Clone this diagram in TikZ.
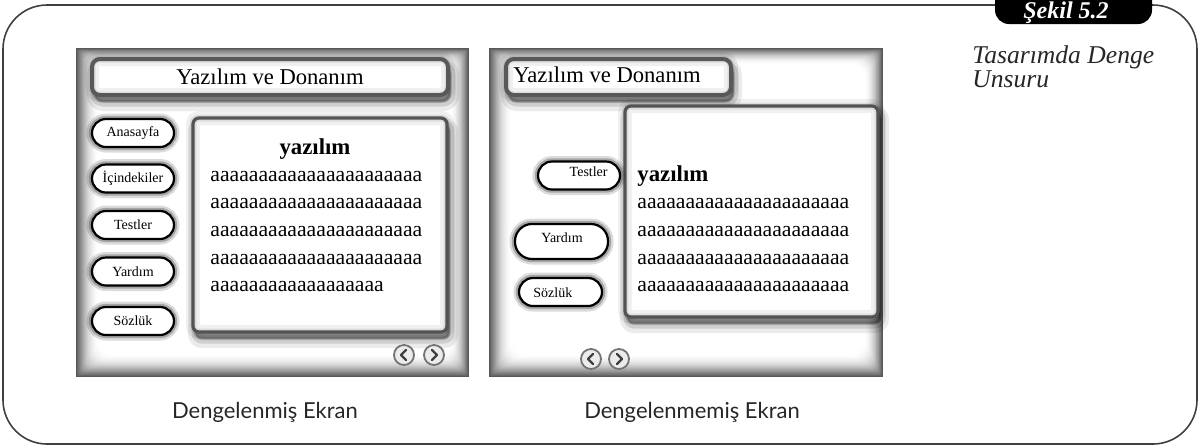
\documentclass[tikz,border=0pt]{standalone}
\usepackage{fontspec}
\newfontfamily\screenfont{Liberation Serif}
\newfontfamily\labelfont{Lato}
\usetikzlibrary{positioning, calc}

% vignette behind a screen shot: nw x, nw y, se x, se y
\newcommand\screenbg[4]{%
  \foreach \d [evaluate=\d as \c using {66*(1-\d/20)^1.8}] in {0,...,20}
    \fill[black!\c, rounded corners=\d*0.4pt] (#1+1.1*\d,#2+0.8*\d) rectangle (#3-0.9*\d,#4-1.1*\d);}
\newcommand\arow{aaaaaaaaaaaaaaaaaaaaaa}

\begin{document}
\begin{tikzpicture}[x=0.5pt, y=-0.5pt,
    frameline/.style={draw=black!75, line width=0.8pt, rounded corners=22pt},
    badge/.style={fill=black, rounded corners=7pt},
    badgetext/.style={text=white, font=\screenfont\fontsize{12}{14}\selectfont\bfseries\itshape, inner sep=0pt},
    sidetext/.style={text=black!85, font=\screenfont\fontsize{12.8}{12}\selectfont\itshape, inner sep=0pt, align=left},
    caption/.style={text=black!85, font=\labelfont\fontsize{11}{13}\selectfont, inner sep=0pt},
    dropshadow/.style={
        preaction={draw=black, fill=black, line width=8pt, opacity=0.08, transform canvas={shift={(1.5pt,-4pt)}}},
        preaction={draw=black, fill=black, line width=4.5pt, opacity=0.12, transform canvas={shift={(1.5pt,-3.5pt)}}},
        preaction={draw=black, fill=black, line width=1.5pt, opacity=0.18, transform canvas={shift={(1pt,-3pt)}}}},
    innerglow/.style={
        postaction={draw=black, line width=7pt, opacity=0.06},
        postaction={draw=black, line width=3.5pt, opacity=0.08}},
    titlebar/.style={dropshadow, innerglow, rectangle, rounded corners=4pt, draw=black!60, line width=2pt, fill=white, inner sep=0pt, font=\screenfont\fontsize{11.3}{13}\selectfont},
    titletext/.style={inner sep=0pt, font=\screenfont\fontsize{11.3}{13}\selectfont},
    panel/.style={dropshadow, innerglow, rectangle, rounded corners=3pt, draw=black!62, line width=1.6pt, fill=white},
    headtext/.style={inner sep=0pt, font=\screenfont\fontsize{11.4}{13}\selectfont\bfseries},
    bodytext/.style={inner sep=0pt, font=\screenfont\fontsize{10.85}{13}\selectfont},
    menubtn/.style={
        preaction={draw=black, line width=5.5pt, opacity=0.14},
        preaction={draw=black, line width=3.2pt, opacity=0.24},
        rectangle, rounded corners=7pt, draw=black, line width=1.1pt, fill=white, inner sep=0pt,
        minimum width=41pt, minimum height=14pt, font=\screenfont\fontsize{7}{8}\selectfont},
    btntext/.style={inner sep=0pt, font=\screenfont\fontsize{7}{8}\selectfont},
    navbtn/.style={circle, draw=black!55, line width=0.9pt, fill=black!8, minimum size=10pt, inner sep=0pt},
    chevron/.style={draw=black!75, line width=1.2pt, line cap=round, line join=round}
]
    \clip (0,0) rectangle (1200,447);

    % outer frame and figure tag
    \draw[frameline] (3,5) rectangle (1197,444);
    \fill[badge] (995,-20) rectangle (1152,24);
    \node[badgetext, anchor=base] (tag) at (1066,18.5) {Şekil 5.2};
    \node[sidetext, anchor=north west] (side) at (972,45) {Tasarımda Denge\\Unsuru};

    % balanced screen
    \screenbg{76}{48}{469}{377}
    \node[titlebar, minimum width=178pt, minimum height=18pt] (titleA) at (270,77) {Yazılım ve Donanım};
    \node[panel, minimum width=127pt, minimum height=107pt] (panelA) at (320,225) {};
    \node[headtext, anchor=base] (headA) at (315,154) {yazılım};
    \foreach \y [count=\i] in {181,208.7,236.4,264}
        \node[bodytext, anchor=base west] (lineA\i) at (210,\y) {\arow};
    \node[bodytext, anchor=base west] (lineA5) at (210,291.8) {aaaaaaaaaaaaaaaaaa};
    \foreach \y/\t [count=\i] in {133/Anasayfa, 178.5/İçindekiler, 225/Testler, 271.5/Yardım, 321/Sözlük}
        \node[menubtn] (btnA\i) at (133,\y) {\t};
    \node[navbtn] (prevA) at (404,355) {};
    \node[navbtn] (nextA) at (434,355) {};

    % unbalanced screen
    \screenbg{489}{48}{883}{377}
    \node[titlebar, minimum width=112.5pt, minimum height=18pt] (titleB) at (618.5,77) {};
    \node[titletext, anchor=base west] (titleBtext) at (513,82) {Yazılım ve Donanım};
    \node[panel, minimum width=126.5pt, minimum height=105.5pt] (panelB) at (751.5,211.5) {};
    \node[headtext, anchor=base west] (headB) at (637,181) {yazılım};
    \foreach \y [count=\i] in {208,236,264,291.7}
        \node[bodytext, anchor=base west] (lineB\i) at (637,\y) {\arow};
    \node[menubtn] (btnB1) at (579,175.5) {};
    \node[btntext, anchor=base east] (testB) at (608,176.5) {Testler};
    \node[menubtn, minimum width=46.5pt, minimum height=17.5pt, rounded corners=8.5pt] (btnB2) at (561.5,241.5) {};
    \node[btntext, anchor=base] (helpB) at (562,242.5) {Yardım};
    \node[menubtn, minimum width=41.5pt] (btnB3) at (560.5,292) {};
    \node[btntext, anchor=base west] (dictB) at (533,297.5) {Sözlük};
    \node[navbtn] (prevB) at (591,359) {};
    \node[navbtn] (nextB) at (619,359) {};

    % arrows on the round buttons
    \foreach \n in {prevA, prevB}
        \draw[chevron] ([shift={(1pt,2.5pt)}]\n.center) -- ([shift={(-1.5pt,0pt)}]\n.center) -- ([shift={(1pt,-2.5pt)}]\n.center);
    \foreach \n in {nextA, nextB}
        \draw[chevron] ([shift={(-1pt,2.5pt)}]\n.center) -- ([shift={(1.5pt,0pt)}]\n.center) -- ([shift={(-1pt,-2.5pt)}]\n.center);

    % captions
    \node[caption, anchor=base] (capA) at (265,418) {Dengelenmiş Ekran};
    \node[caption, anchor=base] (capB) at (692,418) {Dengelenmemiş Ekran};
\end{tikzpicture}
\end{document}
